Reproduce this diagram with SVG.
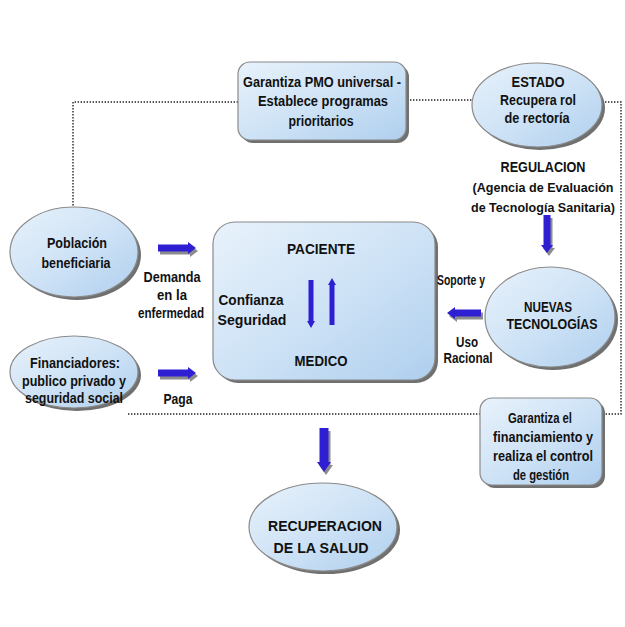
<svg xmlns="http://www.w3.org/2000/svg" width="625" height="627" viewBox="0 0 625 627">
<defs>
<linearGradient id="sky" x1="0" y1="0" x2="1" y2="1">
<stop offset="0" stop-color="#e8f2fb"/>
<stop offset="0.5" stop-color="#cfe3f6"/>
<stop offset="1" stop-color="#afcfee"/>
</linearGradient>
<style>
.shape{fill:url(#sky);stroke:#8a8a8a;stroke-width:1.2}
.shadow{fill:#707070}
.dot{fill:none;stroke:#222;stroke-width:1.4;stroke-dasharray:1.4 1.6}
.arr{fill:#2f1fd2}
.arrs{fill:#8c8c8c}
text{font-family:"Liberation Sans",Arial,sans-serif;font-weight:bold;font-size:14px;fill:#111;text-anchor:middle}
.big{font-size:15.5px}
.sm{font-size:12.5px}
</style>
</defs>
<rect width="625" height="627" fill="#fff"/>
<g id="connectors">
<polyline class="dot" points="238,102 73,102 73,207"/>
<line class="dot" x1="407" y1="100" x2="472" y2="100"/>
<polyline class="dot" points="602,102 621,102 621,414 602,414"/>
<line class="dot" x1="128" y1="414" x2="480" y2="414"/>
<g transform="translate(2,3)" class="arrs">
<path d="M158,244.5 L188,244.5 L188,242 L196,248 L188,254 L188,251.5 L158,251.5 Z"/>
<path d="M158,369.5 L188,369.5 L188,367 L196,373 L188,379 L188,376.5 L158,376.5 Z"/>
<path d="M481,309.5 L455,309.5 L455,307 L447,313 L455,319 L455,316.5 L481,316.5 Z"/>
<path d="M543.5,215 L550.5,215 L550.5,245 L553,245 L547,253 L541,245 L543.5,245 Z"/>
<path d="M319.5,428 L328.5,428 L328.5,462 L331,462 L324,472 L317,462 L319.5,462 Z"/>
<path d="M308.5,280 L313.5,280 L313.5,321 L315,321 L311,328 L307,321 L308.5,321 Z"/>
<path d="M329.5,325 L334.5,325 L334.5,285 L336,285 L332,278 L328,285 L329.5,285 Z"/>
</g>
</g>
<g id="garantiza-pmo">
<rect class="shadow" x="241" y="65" width="168" height="78" rx="12"/>
<rect class="shape" x="238" y="62" width="168" height="78" rx="12"/>
<text x="322" y="87" textLength="158" lengthAdjust="spacingAndGlyphs">Garantiza PMO universal -</text>
<text x="323" y="106" textLength="130" lengthAdjust="spacingAndGlyphs">Establece programas</text>
<text x="321" y="126" textLength="65" lengthAdjust="spacingAndGlyphs">prioritarios</text>
</g>
<g id="estado">
<ellipse class="shadow" cx="540" cy="108" rx="65" ry="42"/>
<ellipse class="shape" cx="537" cy="105" rx="65" ry="42"/>
<text x="538" y="87" textLength="53" lengthAdjust="spacingAndGlyphs">ESTADO</text>
<text x="538" y="105" textLength="76" lengthAdjust="spacingAndGlyphs">Recupera rol</text>
<text x="537" y="123" textLength="65" lengthAdjust="spacingAndGlyphs">de rectoría</text>
</g>
<g id="regulacion">
<text x="543" y="172" textLength="85" lengthAdjust="spacingAndGlyphs">REGULACION</text>
<text class="sm" x="543" y="192" textLength="141" lengthAdjust="spacingAndGlyphs">(Agencia de Evaluación</text>
<text class="sm" x="543" y="212" textLength="144" lengthAdjust="spacingAndGlyphs">de Tecnología Sanitaria)</text>
</g>
<g id="poblacion">
<ellipse class="shadow" cx="77" cy="255" rx="64" ry="45"/>
<ellipse class="shape" cx="74" cy="252" rx="64" ry="45"/>
<text x="77" y="248" textLength="60" lengthAdjust="spacingAndGlyphs">Población</text>
<text x="76" y="268" textLength="69" lengthAdjust="spacingAndGlyphs">beneficiaria</text>
</g>
<g id="financiadores">
<ellipse class="shadow" cx="77" cy="375" rx="64" ry="36"/>
<ellipse class="shape" cx="74" cy="372" rx="64" ry="36"/>
<text x="75" y="368" textLength="90" lengthAdjust="spacingAndGlyphs">Financiadores:</text>
<text x="74" y="386" textLength="104" lengthAdjust="spacingAndGlyphs">publico privado y</text>
<text x="74" y="403" textLength="98" lengthAdjust="spacingAndGlyphs">seguridad social</text>
</g>
<g id="paciente-medico">
<rect class="shadow" x="216" y="225" width="222" height="158" rx="22"/>
<rect class="shape" x="213" y="222" width="222" height="158" rx="22"/>
<text class="big" x="321" y="254" textLength="68" lengthAdjust="spacingAndGlyphs">PACIENTE</text>
<text class="big" x="321" y="366" textLength="53" lengthAdjust="spacingAndGlyphs">MEDICO</text>
<text class="big" x="251" y="305" textLength="65" lengthAdjust="spacingAndGlyphs">Confianza</text>
<text class="big" x="252" y="325" textLength="69" lengthAdjust="spacingAndGlyphs">Seguridad</text>
</g>
<g id="nuevas-tecnologias">
<ellipse class="shadow" cx="553" cy="320" rx="65" ry="50"/>
<ellipse class="shape" cx="550" cy="317" rx="65" ry="50"/>
<text x="548" y="312" textLength="48" lengthAdjust="spacingAndGlyphs">NUEVAS</text>
<text x="552" y="329" textLength="91" lengthAdjust="spacingAndGlyphs">TECNOLOGÍAS</text>
</g>
<g id="garantiza-financiamiento">
<rect class="shadow" x="483" y="401" width="122" height="87" rx="12"/>
<rect class="shape" x="480" y="398" width="122" height="87" rx="12"/>
<text x="540" y="423" textLength="64" lengthAdjust="spacingAndGlyphs">Garantiza el</text>
<text x="543" y="442" textLength="100" lengthAdjust="spacingAndGlyphs">financiamiento y</text>
<text x="543" y="461" textLength="100" lengthAdjust="spacingAndGlyphs">realiza el control</text>
<text x="541" y="480" textLength="56" lengthAdjust="spacingAndGlyphs">de gestión</text>
</g>
<g id="recuperacion">
<ellipse class="shadow" cx="326" cy="530" rx="74" ry="44"/>
<ellipse class="shape" cx="323" cy="527" rx="74" ry="44"/>
<text class="big" x="325" y="531" textLength="114" lengthAdjust="spacingAndGlyphs">RECUPERACION</text>
<text class="big" x="321" y="553" textLength="95" lengthAdjust="spacingAndGlyphs">DE LA SALUD</text>
</g>
<g id="labels">
<text x="172" y="282" textLength="57" lengthAdjust="spacingAndGlyphs">Demanda</text>
<text x="172" y="300" textLength="30" lengthAdjust="spacingAndGlyphs">en la</text>
<text x="171" y="318" textLength="66" lengthAdjust="spacingAndGlyphs">enfermedad</text>
<text x="178" y="404" textLength="29" lengthAdjust="spacingAndGlyphs">Paga</text>
<text x="461" y="285" textLength="48" lengthAdjust="spacingAndGlyphs">Soporte y</text>
<text x="467" y="347" textLength="22" lengthAdjust="spacingAndGlyphs">Uso</text>
<text x="468" y="363" textLength="49" lengthAdjust="spacingAndGlyphs">Racional</text>
</g>
<g id="arrows">
<path class="arr" d="M158,244.5 L188,244.5 L188,242 L196,248 L188,254 L188,251.5 L158,251.5 Z"/>
<path class="arr" d="M158,369.5 L188,369.5 L188,367 L196,373 L188,379 L188,376.5 L158,376.5 Z"/>
<path class="arr" d="M481,309.5 L455,309.5 L455,307 L447,313 L455,319 L455,316.5 L481,316.5 Z"/>
<path class="arr" d="M543.5,215 L550.5,215 L550.5,245 L553,245 L547,253 L541,245 L543.5,245 Z"/>
<path class="arr" d="M319.5,428 L328.5,428 L328.5,462 L331,462 L324,472 L317,462 L319.5,462 Z"/>
<path class="arr" d="M308.5,280 L313.5,280 L313.5,321 L315,321 L311,328 L307,321 L308.5,321 Z"/>
<path class="arr" d="M329.5,325 L334.5,325 L334.5,285 L336,285 L332,278 L328,285 L329.5,285 Z"/>
</g>
</svg>
